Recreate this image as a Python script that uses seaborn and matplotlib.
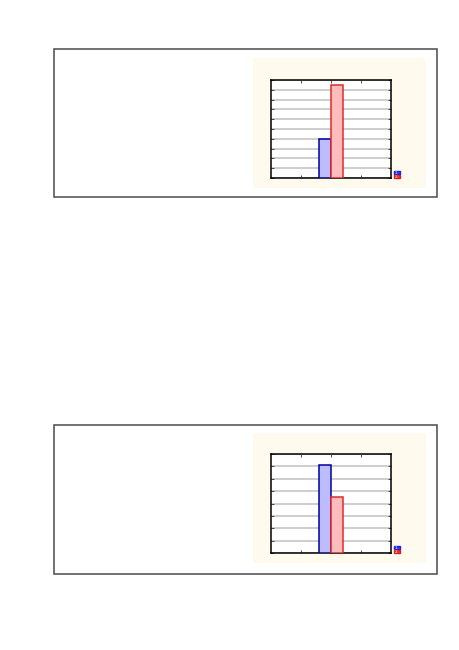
import matplotlib
matplotlib.use("Agg")
import matplotlib.pyplot as plt
from matplotlib.patches import Rectangle, Patch
import pandas as pd
import seaborn as sns

sns.set_theme(style="white")
plt.rcParams["font.family"] = ["DejaVu Sans"]

# Data for the two panels: one bin position, two series
bin_pos = [2, 2]
series = ["1", "2"]
upper_values = [4.0, 9.5]
lower_values = [7.1, 4.5]
upper_ymax = 10
lower_ymax = 8

blue_fill, blue_edge = "#bcbcff", "#00009c"
red_fill, red_edge = "#ffbcbc", "#e02a2a"

W, H = 459, 650
fig = plt.figure(figsize=(W / 100, H / 100), dpi=100)
fig.patch.set_facecolor("white")


def fx(x):
    return x / W


def fy(y):
    return 1 - y / H


def frame(x0, y0, x1, y1, **kw):
    fig.patches.append(Rectangle((fx(x0), fy(y1)), fx(x1) - fx(x0), fy(y0) - fy(y1),
                                 transform=fig.transFigure, **kw))


def panel(box, cream, axbox, values, ymax, legend_y):
    frame(*box, facecolor="none", edgecolor="#4a4a4a", lw=1.1, zorder=-1)
    frame(*cream, facecolor="#fefaee", edgecolor="none", zorder=-2)
    x0, y0, x1, y1 = axbox
    ax = fig.add_axes([fx(x0), fy(y1), fx(x1) - fx(x0), fy(y0) - fy(y1)])
    ax.set_zorder(3)
    df = pd.DataFrame({"bin": bin_pos, "series": series, "value": values})
    sns.barplot(data=df, x="bin", y="value", hue="series", native_scale=True,
                palette=[blue_fill, red_fill], saturation=1, width=0.8, gap=0,
                ax=ax, legend=False, zorder=3)
    for patch, ec in zip(ax.patches, [blue_edge, red_edge]):
        patch.set_edgecolor(ec)
        patch.set_linewidth(1.1)
    ax.set_facecolor("white")
    ax.set_xlim(0, 4)
    ax.set_ylim(0, ymax)
    ax.set_xticks([1, 2, 3])
    ax.set_yticks(range(0, ymax + 1))
    ax.grid(axis="y", color="#cacaca", lw=1.3, zorder=0)
    ax.set_axisbelow(True)
    ax.tick_params(direction="in", length=2, width=0.6, color="#333333",
                   left=True, right=True, top=True, bottom=True,
                   labelleft=False, labelbottom=False)
    for s in ax.spines.values():
        s.set_color("black")
        s.set_linewidth(1.1)
    ax.set_xlabel("")
    ax.set_ylabel("")
    # compact legend beside the lower right corner
    handles = [Patch(facecolor="#3838ff", edgecolor="#2020d0"),
               Patch(facecolor="#ff3030", edgecolor="#d02020")]
    leg = fig.legend(handles, series, loc="upper left",
                     bbox_to_anchor=(fx(394), fy(legend_y)),
                     frameon=False, fontsize=3, handlelength=1.4,
                     handleheight=0.9, handletextpad=-1.2,
                     labelspacing=0.05, borderpad=0, borderaxespad=0)
    leg.set_zorder(4)
    for t in leg.get_texts():
        t.set_color("white")
    return ax


panel((54, 49, 437, 197), (253, 58, 426, 188), (271, 80, 391, 178),
      upper_values, upper_ymax, 170.5)
panel((54, 425, 437, 574), (253, 433, 426, 563), (271, 454, 391, 553),
      lower_values, lower_ymax, 545.5)

fig.savefig("out.png", dpi=100)
